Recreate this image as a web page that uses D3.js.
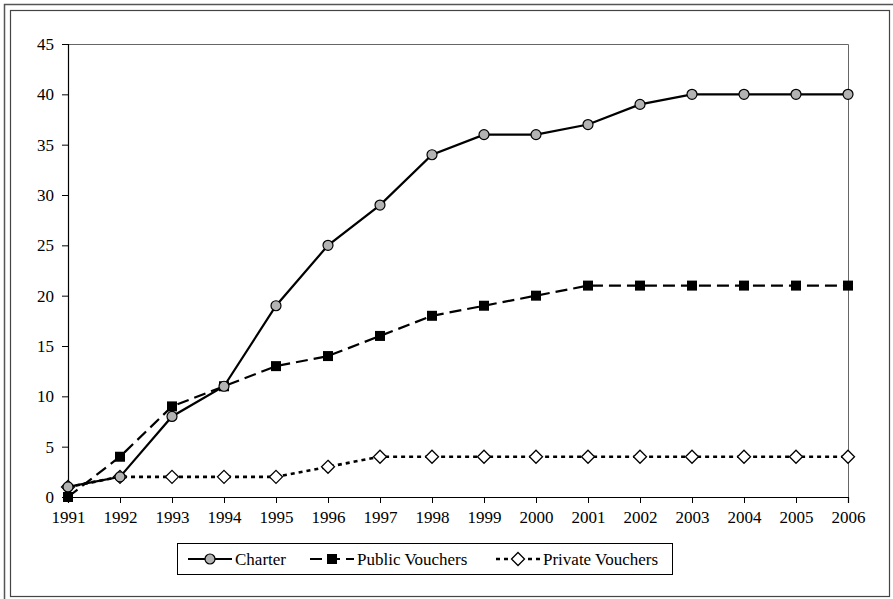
<!DOCTYPE html>
<html>
<head>
<meta charset="utf-8">
<script src="https://cdn.jsdelivr.net/npm/d3@7"></script>
<style>
  body { margin: 0; background: #fff; }
  svg { display: block; }
</style>
</head>
<body>
<div id="chart"></div>
<script>
const years = [1991, 1992, 1993, 1994, 1995, 1996, 1997, 1998, 1999, 2000, 2001, 2002, 2003, 2004, 2005, 2006];
const charter = [1, 2, 8, 11, 19, 25, 29, 34, 36, 36, 37, 39, 40, 40, 40, 40];
const publicVouchers = [0, 4, 9, 11, 13, 14, 16, 18, 19, 20, 21, 21, 21, 21, 21, 21];
const privateVouchers = [1, 2, 2, 2, 2, 3, 4, 4, 4, 4, 4, 4, 4, 4, 4, 4];
const yTicks = [0, 5, 10, 15, 20, 25, 30, 35, 40, 45];

const width = 893, height = 599;
const margin = { left: 68, right: 45, top: 44, bottom: 102 };
const font = "'Liberation Serif', 'DejaVu Serif', serif";
const fontSize = "17px";

const svg = d3.select("#chart").append("svg")
    .attr("width", width)
    .attr("height", height)
    .style("font-family", font);

// double frame
svg.append("rect")
    .attr("x", 4.5).attr("y", 4.5)
    .attr("width", 900).attr("height", 600)
    .attr("fill", "none").attr("stroke", "#555").attr("stroke-width", 1.5);
svg.append("rect")
    .attr("x", 10.5).attr("y", 10.5)
    .attr("width", 879).attr("height", 586)
    .attr("fill", "none").attr("stroke", "#444").attr("stroke-width", 1.2);

const x = d3.scalePoint()
    .domain(years)
    .range([margin.left, width - margin.right]);

const y = d3.scaleLinear()
    .domain([0, 45])
    .range([height - margin.bottom, margin.top]);

// plot box (top & right)
svg.append("path")
    .attr("d", `M${x(1991)},${y(45) + 0.5}H${x(2006) + 0.5}V${y(0)}`)
    .attr("fill", "none").attr("stroke", "#666").attr("stroke-width", 1);

const yAxis = svg.append("g")
    .attr("transform", `translate(${margin.left},0)`)
    .call(d3.axisLeft(y).tickValues(yTicks).tickSize(6).tickPadding(8));

const xAxis = svg.append("g")
    .attr("transform", `translate(0,${y(0)})`)
    .call(d3.axisBottom(x).tickSize(6).tickPadding(8).tickFormat(d3.format("d")));

[yAxis, xAxis].forEach(g => {
  g.select(".domain").attr("stroke", "#000").attr("stroke-width", 1.2);
  g.selectAll(".tick line").attr("stroke", "#000");
  g.selectAll(".tick text")
      .attr("fill", "#000")
      .style("font-family", font)
      .style("font-size", fontSize);
});

const series = [
  { name: "Charter", values: charter, dash: null, marker: "circle", sw: 2.2 },
  { name: "Public Vouchers", values: publicVouchers, dash: "12,6", marker: "square", sw: 2.2 },
  { name: "Private Vouchers", values: privateVouchers, dash: "4,4", marker: "diamond", sw: 2.6 }
];

const line = d3.line()
    .x((d, i) => x(years[i]))
    .y(d => y(d));

function drawMarker(g, type, cx, cy) {
  if (type === "circle") {
    g.append("circle")
        .attr("cx", cx).attr("cy", cy).attr("r", 5)
        .attr("fill", "#b3b3b3").attr("stroke", "#000").attr("stroke-width", 1.2);
  } else if (type === "square") {
    g.append("rect")
        .attr("x", cx - 5).attr("y", cy - 5)
        .attr("width", 10).attr("height", 10)
        .attr("fill", "#000");
  } else {
    g.append("path")
        .attr("d", `M${cx},${cy - 6.5}L${cx + 6.5},${cy}L${cx},${cy + 6.5}L${cx - 6.5},${cy}Z`)
        .attr("fill", "#fff").attr("stroke", "#000").attr("stroke-width", 1.3);
  }
}

// draw in reverse so charter sits on top
series.slice().reverse().forEach(s => {
  svg.append("path")
      .datum(s.values)
      .attr("d", line)
      .attr("fill", "none")
      .attr("stroke", "#000")
      .attr("stroke-width", s.sw)
      .attr("stroke-dasharray", s.dash);
  const mg = svg.append("g");
  s.values.forEach((v, i) => drawMarker(mg, s.marker, x(years[i]), y(v)));
});

// legend
const legend = svg.append("g");
legend.append("rect")
    .attr("x", 177.5).attr("y", 543.5)
    .attr("width", 495).attr("height", 31)
    .attr("fill", "#fff").attr("stroke", "#000").attr("stroke-width", 1);

const legendItems = [
  { s: series[0], x0: 188, x1: 232, tx: 235 },
  { s: series[1], x0: 310, x1: 354, tx: 357 },
  { s: series[2], x0: 496, x1: 540, tx: 543 }
];
legendItems.forEach(it => {
  const ly = 559;
  legend.append("line")
      .attr("x1", it.x0).attr("x2", it.x1)
      .attr("y1", ly).attr("y2", ly)
      .attr("stroke", "#000")
      .attr("stroke-width", it.s.sw)
      .attr("stroke-dasharray", it.s.dash);
  drawMarker(legend, it.s.marker, (it.x0 + it.x1) / 2, ly);
  legend.append("text")
      .attr("x", it.tx).attr("y", ly + 5.5)
      .style("font-size", fontSize)
      .text(it.s.name);
});
</script>
</body>
</html>
